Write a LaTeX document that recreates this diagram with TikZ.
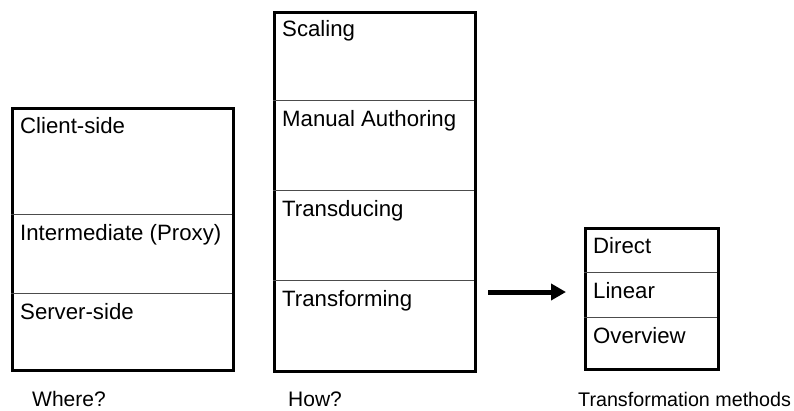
\documentclass[tikz,border=0pt]{standalone}
\usepackage{fontspec}
\setmainfont{Liberation Sans}
\usetikzlibrary{arrows.meta}
\begin{document}
\begin{tikzpicture}[x=1pt,y=-1pt,
  box/.style={draw=black,line width=3pt,rectangle,inner sep=0pt,anchor=north west},
  div/.style={draw=black!70,line width=1pt},
  lbl/.style={anchor=base west,inner sep=0pt,font=\fontsize{22.2}{26}\selectfont},
  caplbl/.style={anchor=base west,inner sep=0pt,font=\fontsize{21}{25}\selectfont},
  arr/.style={draw=black,line width=5pt,-{Triangle[length=15pt,width=16pt]}}]
\useasboundingbox (0,0) rectangle (794,410);
% Where box
\node[box,minimum width=221pt,minimum height=262pt] (where) at (11,107) {};
\draw[div] (11,214) -- (232,214);
\draw[div] (11,293) -- (232,293);
\node[lbl] (cs) at (20,133) {Client-side};
\node[lbl] (im) at (20,240) {Intermediate (Proxy)};
\node[lbl] (ss) at (20,319) {Server-side};
\node[caplbl] (wq) at (32,406) {Where?};
% How box
\node[box,minimum width=201pt,minimum height=359pt] (how) at (273,11) {};
\draw[div] (273,100) -- (474,100);
\draw[div] (273,190) -- (474,190);
\draw[div] (273,280) -- (474,280);
\node[lbl] (sc) at (282,36) {Scaling};
\node[lbl] (ma) at (282,126) {Manual Authoring};
\node[lbl] (td) at (282,216) {Transducing};
\node[lbl] (tf) at (282,306) {Transforming};
\node[caplbl] (hq) at (288,406) {How?};
% Methods box
\node[box,minimum width=133pt,minimum height=141pt] (meth) at (584,227) {};
\draw[div] (584,272) -- (717,272);
\draw[div] (584,317) -- (717,317);
\node[lbl] (di) at (593,253) {Direct};
\node[lbl] (li) at (593,298) {Linear};
\node[lbl] (ov) at (593,343) {Overview};
\node[anchor=base west,inner sep=0pt,font=\fontsize{19.7}{24}\selectfont] (tm) at (578,406) {Transformation methods};
% arrow
\coordinate (a1) at (488,292);
\coordinate (a2) at (566,292);
\draw[arr] (a1) -- (a2);
\end{tikzpicture}
\end{document}
